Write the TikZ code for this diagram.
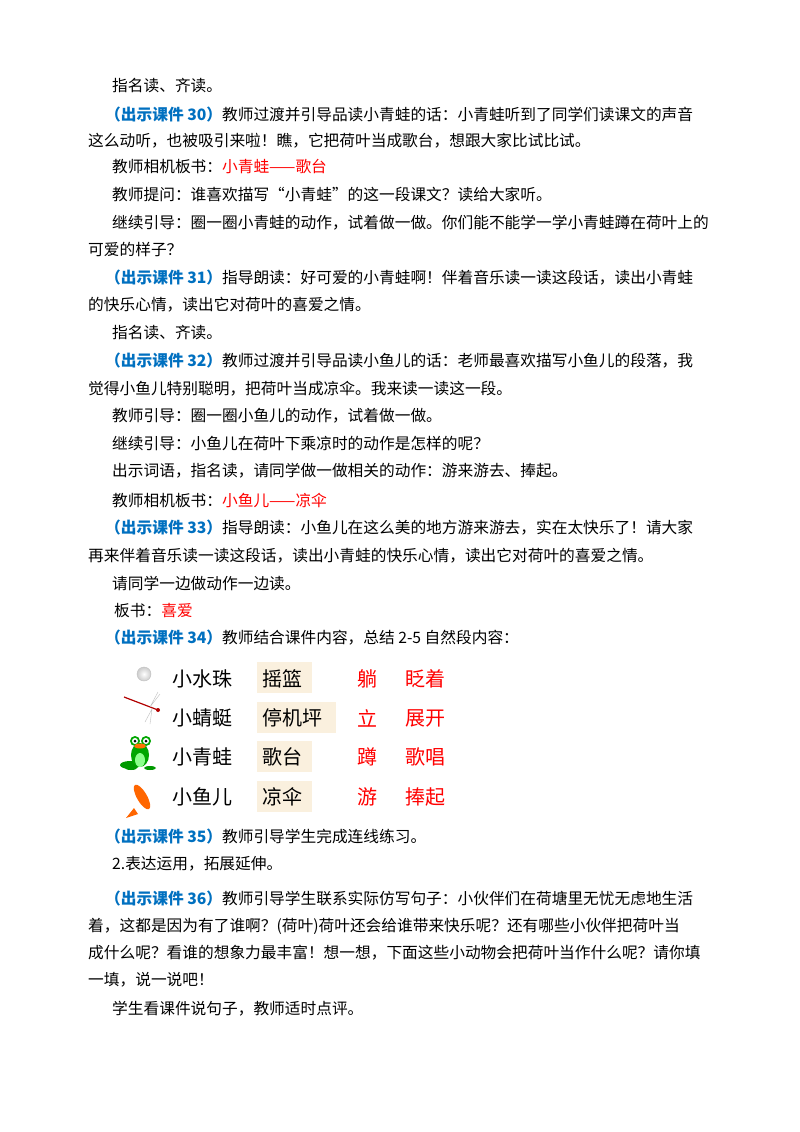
\documentclass[tikz,border=0pt]{standalone}
\usepackage{fontspec}
\setmainfont{Noto Sans CJK SC}
\usetikzlibrary{shapes.geometric}
\definecolor{kjblue}{RGB}{0,112,192}
\definecolor{beige}{RGB}{250,240,222}
\begin{document}
\begin{tikzpicture}[x=1pt,y=-1pt,
  t/.style={anchor=west,inner sep=0pt,font=\fontsize{15.7}{18}\selectfont},
  big/.style={anchor=west,inner sep=0pt,font=\fontsize{20}{24}\selectfont},
  red/.style={big,text=red},
  box/.style={fill=beige,draw=none}]
\useasboundingbox (0,0) rectangle (800,1132);
\fill[white] (0,0) rectangle (800,1132);
\newcommand{\kj}[1]{\textcolor{kjblue}{\bfseries （出示课件 #1）}}
\node[t] (l1) at (112,86) {指名读、齐读。};
\node[t] (l2) at (105,115) {\kj{30}教师过渡并引导品读小青蛙的话：小青蛙听到了同学们读课文的声音};
\node[t] (l3) at (88,141) {这么动听，也被吸引来啦！瞧，它把荷叶当成歌台，想跟大家比试比试。};
\node[t] (l4) at (112,167) {教师相机板书：\textcolor{red}{小青蛙——歌台}};
\node[t] (l5) at (112,195) {教师提问：谁喜欢描写“小青蛙”的这一段课文？读给大家听。};
\node[t] (l6) at (112,223) {继续引导：圈一圈小青蛙的动作，试着做一做。你们能不能学一学小青蛙蹲在荷叶上的};
\node[t] (l7) at (88,250) {可爱的样子？};
\node[t] (l8) at (105,278) {\kj{31}指导朗读：好可爱的小青蛙啊！伴着音乐读一读这段话，读出小青蛙};
\node[t] (l9) at (88,305) {的快乐心情，读出它对荷叶的喜爱之情。};
\node[t] (l10) at (112,333) {指名读、齐读。};
\node[t] (l11) at (105,361) {\kj{32}教师过渡并引导品读小鱼儿的话：老师最喜欢描写小鱼儿的段落，我};
\node[t] (l12) at (88,389) {觉得小鱼儿特别聪明，把荷叶当成凉伞。我来读一读这一段。};
\node[t] (l13) at (112,416) {教师引导：圈一圈小鱼儿的动作，试着做一做。};
\node[t] (l14) at (112,444) {继续引导：小鱼儿在荷叶下乘凉时的动作是怎样的呢？};
\node[t] (l15) at (112,471) {出示词语，指名读，请同学做一做相关的动作：游来游去、捧起。};
\node[t] (l16) at (112,500) {教师相机板书：\textcolor{red}{小鱼儿——凉伞}};
\node[t] (l17) at (105,528) {\kj{33}指导朗读：小鱼儿在这么美的地方游来游去，实在太快乐了！请大家};
\node[t] (l18) at (88,556) {再来伴着音乐读一读这段话，读出小青蛙的快乐心情，读出它对荷叶的喜爱之情。};
\node[t] (l19) at (112,583) {请同学一边做动作一边读。};
\node[t] (l20) at (114,611) {板书：\textcolor{red}{喜爱}};
\node[t] (l21) at (105,638) {\kj{34}教师结合课件内容，总结 2-5 自然段内容：};
% table
\fill[box] (257,662) rectangle (312,693);
\fill[box] (257,702) rectangle (336,733);
\fill[box] (257,741) rectangle (312,772);
\fill[box] (257,781) rectangle (312,812);
\node[big] (a1) at (172,679) {小水珠};
\node[big] (b1) at (262,679) {摇篮};
\node[red] (c1) at (357,679) {躺};
\node[red] (d1) at (405,679) {眨着};
\node[big] (a2) at (172,718) {小蜻蜓};
\node[big] (b2) at (262,718) {停机坪};
\node[red] (c2) at (357,718) {立};
\node[red] (d2) at (405,718) {展开};
\node[big] (a3) at (172,757) {小青蛙};
\node[big] (b3) at (262,757) {歌台};
\node[red] (c3) at (357,757) {蹲};
\node[red] (d3) at (405,757) {歌唱};
\node[big] (a4) at (172,797) {小鱼儿};
\node[big] (b4) at (262,797) {凉伞};
\node[red] (c4) at (357,797) {游};
\node[red] (d4) at (405,797) {捧起};
% icons
\shade[inner color=white,outer color=gray!40] (144,674) circle (7);
\draw[gray!50,line width=0.4] (144,674) circle (7);
\draw[red!70!black,line width=1.2] (124,697) -- (158,710);
\fill[red!70!black] (158,710) circle (2);
\draw[gray!50] (150,707) -- (158,692) (150,707) -- (160,694) (152,709) -- (145,722) (152,709) -- (150,724);
\fill[green!60!black] (130,765) ellipse (10 and 4);
\fill[green!65!black] (140,755) ellipse (9 and 12);
\fill[green!45] (140,760) ellipse (5 and 7);
\fill[green!65!black] (135,741) circle (5) (146,741) circle (5);
\fill[white] (135,741) circle (3) (146,741) circle (3);
\fill[black] (135,741) circle (1.5) (146,741) circle (1.5);
\fill[orange!90!red] (140,746) ellipse (6 and 2.5);
\fill[green!60!black] (131,768) ellipse (6 and 2) (150,768) ellipse (6 and 2);
\fill[orange!80!red,rotate around={-60:(142,797)}] (142,797) ellipse (14 and 5);
\fill[orange!80!red] (134,808) -- (126,818) -- (138,814) -- cycle;
% after
\node[t] (l22) at (105,837) {\kj{35}教师引导学生完成连线练习。};
\node[t] (l23) at (112,864) {2.表达运用，拓展延伸。};
\node[t] (l24) at (105,899) {\kj{36}教师引导学生联系实际仿写句子：小伙伴们在荷塘里无忧无虑地生活};
\node[t] (l25) at (88,926) {着，这都是因为有了谁啊？(荷叶)荷叶还会给谁带来快乐呢？还有哪些小伙伴把荷叶当};
\node[t] (l26) at (88,953) {成什么呢？看谁的想象力最丰富！想一想，下面这些小动物会把荷叶当作什么呢？请你填};
\node[t] (l27) at (88,980) {一填，说一说吧！};
\node[t] (l28) at (112,1009) {学生看课件说句子，教师适时点评。};
\end{tikzpicture}
\end{document}
